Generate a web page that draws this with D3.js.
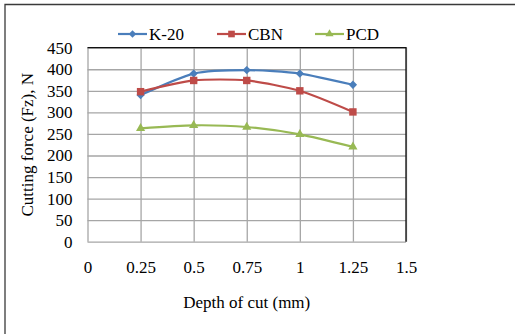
<!DOCTYPE html>
<html>
<head>
<meta charset="utf-8">
<script src="https://cdn.jsdelivr.net/npm/d3@7"></script>
<style>
  html, body { margin: 0; padding: 0; background: #fff; }
  svg { display: block; }
  text { font-family: "Liberation Serif", "Times New Roman", serif; fill: #000; }
</style>
</head>
<body>
<svg id="chart" width="515" height="334"></svg>
<script>
// Cutting force against depth of cut for three tool materials
const depths = [0.25, 0.5, 0.75, 1, 1.25];
const k20 = [340, 390, 398, 390, 364];
const cbn = [348, 374, 374, 350, 301];
const pcd = [263, 270, 266, 249, 220];
const seriesNames = ["K-20", "CBN", "PCD"];
const xTicks = [0, 0.25, 0.5, 0.75, 1, 1.25, 1.5];
const yTicks = [0, 50, 100, 150, 200, 250, 300, 350, 400, 450];

const series = [
  { name: seriesNames[0], values: k20, color: "#4a7ebb", shape: d3.symbolDiamond2, size: 44 },
  { name: seriesNames[1], values: cbn, color: "#be4b48", shape: d3.symbolSquare2, size: 70 },
  { name: seriesNames[2], values: pcd, color: "#98b954", shape: d3.symbolTriangle2, size: 60 }
];

const FONT = "17px";
const svg = d3.select("#chart");
const plot = { left: 87.5, right: 406, top: 47.7, bottom: 241.7 };

const x = d3.scaleLinear().domain([0, 1.5]).range([plot.left, plot.right]);
const y = d3.scaleLinear().domain([0, 450]).range([plot.bottom, plot.top]);

// outer chart frame (top and left edges visible)
svg.append("path")
  .attr("d", `M5,334 L5,4.5 L515,4.5`)
  .attr("fill", "none").attr("stroke", "#3a3a3a").attr("stroke-width", 1.3);

// gridlines
const grid = svg.append("g");
grid.append("g")
  .attr("transform", `translate(0,${plot.bottom})`)
  .call(d3.axisBottom(x).tickValues(xTicks).tickSize(-(plot.bottom - plot.top)).tickFormat(""))
  .call(g => g.select(".domain").remove())
  .call(g => g.selectAll("line").attr("stroke", "#a6a6a6").attr("stroke-width", 1.3));
grid.append("g")
  .attr("transform", `translate(${plot.left},0)`)
  .call(d3.axisLeft(y).tickValues(yTicks).tickSize(-(plot.right - plot.left)).tickFormat(""))
  .call(g => g.select(".domain").remove())
  .call(g => g.selectAll("line").attr("stroke", "#a6a6a6").attr("stroke-width", 1.3));

// plot area border: top and right dark
svg.append("path")
  .attr("d", `M${plot.left},${plot.top} L${plot.right},${plot.top} L${plot.right},${plot.bottom}`)
  .attr("fill", "none").attr("stroke", "#111").attr("stroke-width", 1.3);

// tick labels
const yAxis = svg.append("g")
  .attr("transform", `translate(${plot.left},0)`)
  .call(d3.axisLeft(y).tickValues(yTicks).tickSize(0).tickPadding(15).tickFormat(d3.format("d")));
yAxis.select(".domain").remove();
yAxis.selectAll("text")
  .style("font-family", "'Liberation Serif', serif").style("font-size", FONT).attr("fill", "#000");

const xAxis = svg.append("g")
  .attr("transform", `translate(0,${plot.bottom})`)
  .call(d3.axisBottom(x).tickValues(xTicks).tickSize(0).tickPadding(19).tickFormat(d => String(d)));
xAxis.select(".domain").remove();
xAxis.selectAll("text")
  .style("font-family", "'Liberation Serif', serif").style("font-size", FONT).attr("fill", "#000");

// axis titles
svg.append("text")
  .attr("transform", `translate(33,${(plot.top + plot.bottom) / 2}) rotate(-90)`)
  .attr("text-anchor", "middle")
  .style("font-size", FONT)
  .text("Cutting force (Fz), N");

svg.append("text")
  .attr("x", (plot.left + plot.right) / 2)
  .attr("y", 308)
  .attr("text-anchor", "middle")
  .style("font-size", FONT)
  .text("Depth of cut (mm)");

// series lines (smoothed) and markers
const line = d3.line()
  .x((d, i) => x(depths[i]))
  .y(d => y(d))
  .curve(d3.curveCardinal.tension(0.3));

series.forEach(s => {
  svg.append("path")
    .datum(s.values)
    .attr("d", line)
    .attr("fill", "none")
    .attr("stroke", s.color)
    .attr("stroke-width", 2.2);
  svg.append("g").selectAll("path")
    .data(s.values)
    .join("path")
    .attr("transform", (d, i) => `translate(${x(depths[i])},${y(d)})`)
    .attr("d", d3.symbol().type(s.shape).size(s.size))
    .attr("fill", s.color);
});

// legend
const legendX = [118, 217, 315];
const legend = svg.append("g");
series.forEach((s, i) => {
  const g = legend.append("g").attr("transform", `translate(${legendX[i]},34)`);
  g.append("line").attr("x1", 0).attr("x2", 29).attr("y1", 0).attr("y2", 0)
    .attr("stroke", s.color).attr("stroke-width", 2.2);
  g.append("path").attr("transform", "translate(14.5,0)")
    .attr("d", d3.symbol().type(s.shape).size(s.size * 0.8)).attr("fill", s.color);
  g.append("text").attr("x", 31).attr("y", 6).style("font-size", FONT).text(s.name);
});
</script>
</body>
</html>
